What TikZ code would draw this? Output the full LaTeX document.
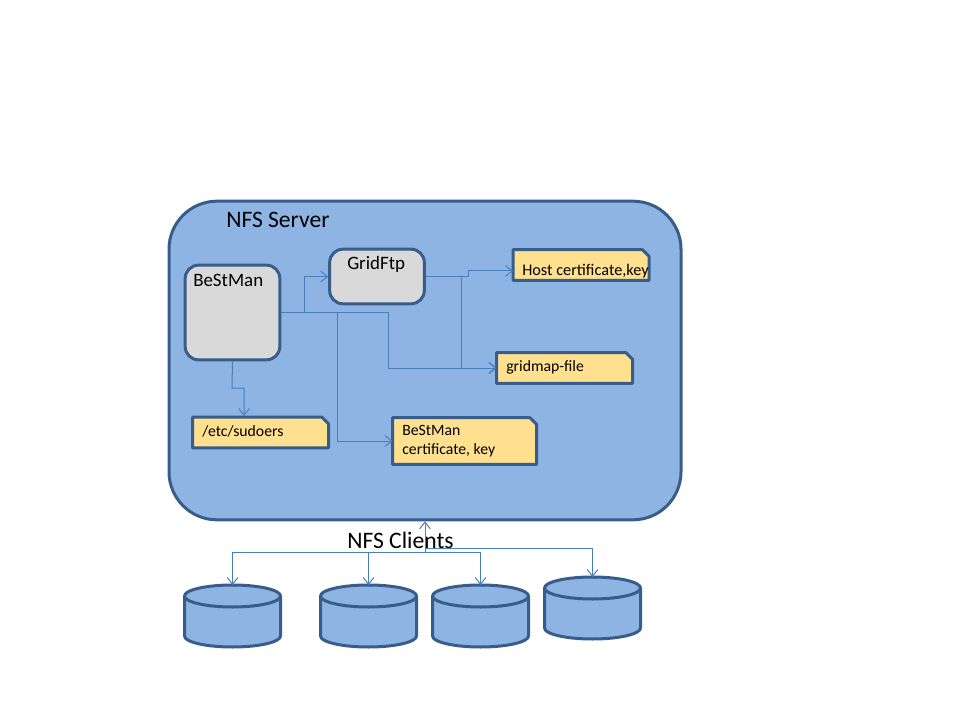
\documentclass[tikz,border=0pt]{standalone}
\usepackage{fontspec}
\setmainfont{Carlito}
\usetikzlibrary{arrows.meta}
\definecolor{serverblue}{HTML}{8EB4E3}
\definecolor{edgeblue}{HTML}{385D8A}
\definecolor{lineblue}{HTML}{4A7EBB}
\definecolor{noteyellow}{HTML}{FFE08F}
\definecolor{procgray}{HTML}{D9D9D9}

\begin{document}
\begin{tikzpicture}[x=.75pt,y=-.75pt]
          \tikzset{ServerStyle/.style = {
              rectangle,
              rounded corners = 36pt,
              fill = serverblue,
              draw = edgeblue,
              line width = 2.25pt,
              minimum width = 384pt,
              minimum height = 239pt},
            ProcStyle/.style = {
              rectangle,
              rounded corners = 10pt,
              fill = procgray,
              draw = edgeblue,
              line width = 2.25pt},
            NoteBox/.style = {
              rectangle,
              inner sep = 0pt,
              outer sep = 0pt},
            NoteLine/.style = {
              fill = noteyellow,
              draw = edgeblue,
              line width = 2.25pt,
              line join = round},
            DiskBox/.style = {
              rectangle,
              inner sep = 0pt,
              outer sep = 0pt,
              minimum width = 72pt,
              minimum height = 46.5pt},
            DiskLine/.style = {
              fill = serverblue,
              draw = edgeblue,
              line width = 2.25pt,
              line join = round},
            TextStyle/.style = {
              anchor = west,
              inner sep = 0pt,
              font = \fontsize{11.8}{14.5}\selectfont},
            LinkStyle/.style = {
              draw = lineblue,
              line width = .75pt,
              -{Straight Barb[length=5pt,width=8pt]}}}
          \useasboundingbox (0,0) rectangle (960,720);
          \node[ServerStyle] (server) at (425,360.5) {};
          \node[anchor=west,inner sep=0pt,font=\fontsize{17.7}{21}\selectfont] (servertext) at (226,220) {NFS Server};
          % processes
          \node[ProcStyle,minimum width=71pt,minimum height=71pt] (bestman) at (232.5,312.5) {};
          \node[ProcStyle,minimum width=71pt,minimum height=41pt] (gridftp) at (377,276.5) {};
          \node[anchor=west,inner sep=0pt,font=\fontsize{14.2}{17}\selectfont] (bestmantext) at (193,280) {BeStMan};
          \node[anchor=west,inner sep=0pt,font=\fontsize{14.2}{17}\selectfont] (gridftptext) at (347,264) {GridFtp};
          % files
          \node[NoteBox,minimum width=102pt,minimum height=23pt] (sudoers) at (260.5,432.5) {};
          \node[NoteBox,minimum width=108pt,minimum height=35pt] (bestcert) at (464.5,441) {};
          \node[NoteBox,minimum width=102pt,minimum height=23pt] (hostcert) at (581,265) {};
          \node[NoteBox,minimum width=102pt,minimum height=23pt] (gridmap) at (564.5,368) {};
          \foreach \name in {sudoers,bestcert,hostcert,gridmap}{
            \draw[NoteLine] (\name.north west) -- ([xshift=-5pt]\name.north east)
              -- ([yshift=-5pt]\name.north east) -- (\name.south east)
              -- (\name.south west) -- cycle;
          }
          \node[TextStyle] (sudoerstext) at (202,431) {/etc/sudoers};
          \node[TextStyle,align=left] (bestcerttext) at (402,441) {BeStMan\\certificate, key};
          \node[TextStyle,font=\fontsize{12.2}{14}\selectfont] (hostcerttext) at (522,271) {Host certificate,key};
          \node[TextStyle] (gridmaptext) at (506,367) {gridmap-file};
          % clients
          \node[anchor=center,inner sep=0pt,font=\fontsize{17.7}{21}\selectfont] (clienttext) at (400.5,540) {NFS Clients};
          \foreach \name/\x/\y in {diskA/232.5/616,diskB/368.5/616,diskC/480.5/616,diskD/592.5/608}{
            \node[DiskBox] (\name) at (\x,\y) {};
            \draw[DiskLine] (\x-48,\y-20) -- (\x-48,\y+20)
              arc[start angle=180,end angle=360,x radius=36pt,y radius=8.25pt]
              -- (\x+48,\y-20)
              arc[start angle=0,end angle=180,x radius=36pt,y radius=8.25pt] -- cycle;
            \draw[DiskLine,fill=none] (\x-48,\y-20)
              arc[start angle=180,end angle=360,x radius=36pt,y radius=8.25pt];
          }
          % connectors
          \coordinate (hostin) at (513,271);
          \coordinate (sudoersin) at (244,416);
          \coordinate (hostbend) at (468,276.5);
          \coordinate (sudoersbend) at (232,388);
          \coordinate (clientbus) at (425,552);
          \coordinate (clientbusD) at (425,548);
          \draw[LinkStyle] (bestman.east) -| (304,276.5) -- (gridftp.west);
          \draw[LinkStyle] (bestman.east) -| (337,441) -- (bestcert.west);
          \draw[LinkStyle] (bestman.east) -| (388,368) -- (gridmap.west);
          \draw[LinkStyle] (gridftp.east) -- (hostbend) |- (hostin);
          \draw[LinkStyle] (gridftp.east) -| (461,368) -- (gridmap.west);
          \draw[LinkStyle] (bestman.south) -- (sudoersbend) -| (sudoersin);
          \draw[LinkStyle] (clientbus) -- (server.south);
          \draw[LinkStyle] (clientbus) -| (diskA.north);
          \draw[LinkStyle] (clientbus) -| (diskB.north);
          \draw[LinkStyle] (clientbus) -| (diskC.north);
          \draw[LinkStyle] (clientbusD) -| (diskD.north);
        \end{tikzpicture}
\end{document}
